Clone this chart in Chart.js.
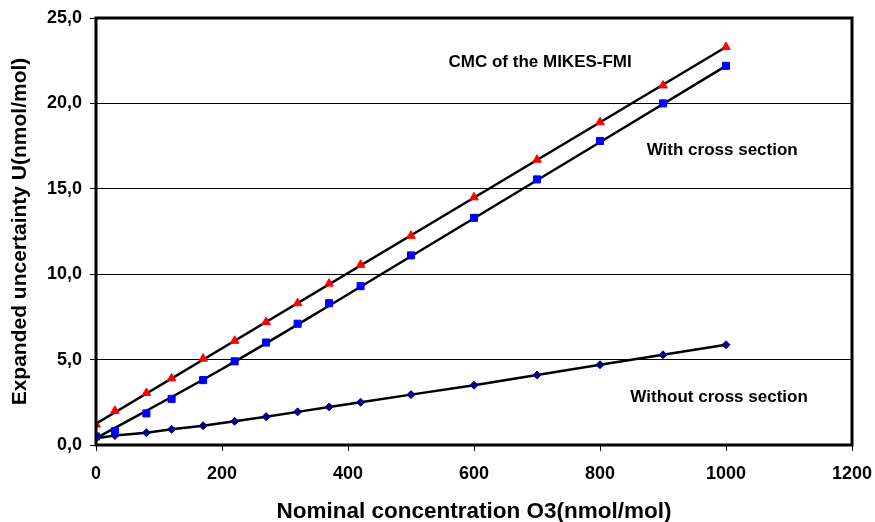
<!DOCTYPE html>
<html>
<head>
<meta charset="utf-8">
<script src="https://cdn.jsdelivr.net/npm/chart.js@4/dist/chart.umd.min.js"></script>
<style>
  html, body { margin: 0; padding: 0; background: #fff; }
  #wrap { width: 875px; height: 522px; }
</style>
</head>
<body>
<div id="wrap"><canvas id="chart"></canvas></div>
<script>
// data
const concentration = [0, 30, 80, 120, 170, 220, 270, 320, 370, 420, 500, 600, 700, 800, 900, 1000]
const cmcValues = [1.2, 2.0, 3.05, 3.9, 5.05, 6.1, 7.2, 8.3, 9.45, 10.55, 12.25, 14.5, 16.7, 18.9, 21.05, 23.3]
const withCross = [0.5, 0.82, 1.85, 2.7, 3.8, 4.9, 6.0, 7.1, 8.3, 9.3, 11.1, 13.3, 15.55, 17.8, 20.0, 22.2]
const withoutCross = [0.4, 0.55, 0.72, 0.92, 1.13, 1.39, 1.66, 1.94, 2.23, 2.5, 2.95, 3.5, 4.1, 4.7, 5.28, 5.87]

// trend lines as drawn in the figure
const cmcTrendX = [0, 1000]
const cmcTrendY = [1.25, 23.3]
const withTrendX = [0, 200, 370, 1000]
const withTrendY = [0.4, 4.45, 8.15, 22.2]

const yTicks = [0, 5, 10, 15, 20, 25]
const xTicks = [0, 200, 400, 600, 800, 1000, 1200]

// text labels placed in data coordinates
const noteText = ["CMC of the MIKES-FMI", "With cross section", "Without cross section"]
const noteX = [705, 994, 989]
const noteY = [22.4, 17.25, 2.8]

const FONT = "'Liberation Sans', Arial, sans-serif"

function toPoints(xs, ys) {
  return xs.map((x, i) => ({ x: x, y: ys[i] }))
}

const frame = {
  id: 'frame',
  afterDatasetsDraw(chart) {
    const a = chart.chartArea
    const ctx = chart.ctx
    ctx.save()
    ctx.strokeStyle = '#000'
    ctx.lineWidth = 3
    ctx.strokeRect(a.left, a.top, a.right - a.left, a.bottom - a.top)
    ctx.font = 'bold 17px ' + FONT
    ctx.fillStyle = '#000'
    ctx.textAlign = 'center'
    ctx.textBaseline = 'middle'
    noteText.forEach((t, i) => {
      ctx.fillText(t, chart.scales.x.getPixelForValue(noteX[i]), chart.scales.y.getPixelForValue(noteY[i]))
    })
    ctx.restore()
  }
}

new Chart(document.getElementById('chart'), {
  type: 'scatter',
  data: {
    datasets: [
      {
        label: 'CMC trend',
        type: 'line',
        data: toPoints(cmcTrendX, cmcTrendY),
        borderColor: '#000',
        borderWidth: 2.5,
        pointRadius: 0,
        order: 5
      },
      {
        label: 'With trend',
        type: 'line',
        data: toPoints(withTrendX, withTrendY),
        borderColor: '#000',
        borderWidth: 2.5,
        pointRadius: 0,
        cubicInterpolationMode: 'monotone',
        order: 5
      },
      {
        label: 'Without trend',
        type: 'line',
        data: toPoints(concentration, withoutCross),
        borderColor: '#000',
        borderWidth: 2.5,
        pointRadius: 0,
        order: 5
      },
      {
        label: 'CMC of the MIKES-FMI',
        data: toPoints(concentration, cmcValues),
        pointStyle: 'triangle',
        pointRadius: 5,
        backgroundColor: '#ff0000',
        borderColor: '#ff0000',
        borderWidth: 1,
        order: 1
      },
      {
        label: 'With cross section',
        data: toPoints(concentration, withCross),
        pointStyle: 'rect',
        pointRadius: 5,
        backgroundColor: '#0000ff',
        borderColor: '#0000ff',
        borderWidth: 1,
        order: 1
      },
      {
        label: 'Without cross section',
        data: toPoints(concentration, withoutCross),
        pointStyle: 'rectRot',
        pointRadius: 4,
        backgroundColor: '#000080',
        borderColor: '#000080',
        borderWidth: 1,
        order: 1
      }
    ]
  },
  options: {
    responsive: true,
    maintainAspectRatio: false,
    animation: false,
    layout: { padding: { top: 18, right: 23, left: 0, bottom: 0 } },
    plugins: {
      legend: { display: false },
      tooltip: { enabled: false }
    },
    scales: {
      x: {
        type: 'linear',
        min: 0,
        max: 1200,
        afterBuildTicks: (s) => { s.ticks = xTicks.map(v => ({ value: v })) },
        afterFit: (s) => {
          s.height = 77
          s.paddingLeft = 0
          s.paddingRight = 0
        },
        grid: { drawOnChartArea: false, color: '#000', tickLength: 6, tickWidth: 1 },
        border: { display: false },
        ticks: {
          color: '#000',
          font: { family: FONT, size: 18, weight: 'bold' },
          padding: 12,
          callback: (v) => String(v)
        },
        title: {
          display: true,
          text: 'Nominal concentration O3(nmol/mol)',
          color: '#000',
          font: { family: FONT, size: 22.5, weight: 'bold' },
          padding: { top: 0, bottom: -3 }
        }
      },
      y: {
        type: 'linear',
        min: 0,
        max: 25,
        afterBuildTicks: (s) => { s.ticks = yTicks.map(v => ({ value: v })) },
        afterFit: (s) => {
          s.width = 96
          s.paddingTop = 0
          s.paddingBottom = 0
        },
        grid: { color: '#000', lineWidth: 1, tickLength: 6 },
        border: { display: false },
        ticks: {
          color: '#000',
          font: { family: FONT, size: 18, weight: 'bold' },
          padding: 8,
          callback: (v) => v.toFixed(1).replace('.', ',')
        },
        title: {
          display: true,
          text: 'Expanded uncertainty U(nmol/mol)',
          color: '#000',
          font: { family: FONT, size: 21, weight: 'bold' },
          padding: { top: 8, bottom: 0 }
        }
      }
    }
  },
  plugins: [frame]
})
</script>
</body>
</html>
